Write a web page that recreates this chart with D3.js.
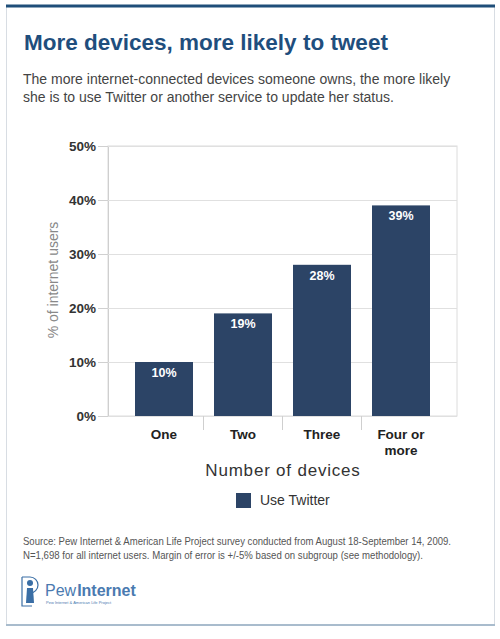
<!DOCTYPE html>
<html><head><meta charset="utf-8">
<script src="https://cdn.jsdelivr.net/npm/d3@7/dist/d3.min.js"></script>
<style>body{margin:0;background:#fff;}svg{display:block;font-family:Arial,"Liberation Sans",sans-serif;}</style>
</head><body>
<svg id="c" width="500" height="639"></svg>
<script>
const categories = ["One", "Two", "Three", "Four or more"];
const values = [10, 19, 28, 39];
const yTicks = [0, 10, 20, 30, 40, 50];
const seriesName = "Use Twitter";

const svg = d3.select("#c");
const barColor = "#2c4466";

// frame
svg.append("rect").attr("x",6.5).attr("y",6).attr("width",488).attr("height",619).attr("fill","#fff").attr("stroke","#d8dde3").attr("stroke-width",1);
svg.append("line").attr("x1",6).attr("x2",495).attr("y1",6).attr("y2",6).attr("stroke","#1f4e79").attr("stroke-width",3);
svg.append("line").attr("x1",6).attr("x2",495).attr("y1",625).attr("y2",625).attr("stroke","#a9bccd").attr("stroke-width",2);

// title
svg.append("text").attr("x",24).attr("y",50).attr("font-size",22.5).attr("font-weight","bold").attr("fill","#1f4e7d").text("More devices, more likely to tweet");
svg.append("text").attr("x",23).attr("y",84).attr("font-size",14).attr("fill","#444").text("The more internet-connected devices someone owns, the more likely");
svg.append("text").attr("x",23).attr("y",102).attr("font-size",14).attr("fill","#444").text("she is to use Twitter or another service to update her status.");

const plot = {l:108, r:457, t:146, b:416};
const y = d3.scaleLinear().domain([0,50]).range([plot.b, plot.t]);
const x = d3.scaleBand().domain(categories).range([124.5, 440.5]).paddingInner(0.266).paddingOuter(0.133);

// plot border
svg.append("rect").attr("x",plot.l).attr("y",plot.t).attr("width",plot.r-plot.l).attr("height",plot.b-plot.t).attr("fill","none").attr("stroke","#dcdcdc");

// gridlines + y axis
const yAxis = d3.axisLeft(y).tickValues(yTicks).tickSize(-(plot.r-plot.l)).tickPadding(12).tickFormat(d=>d+"%");
const gy = svg.append("g").attr("transform",`translate(${plot.l},0)`).call(yAxis);
gy.select(".domain").attr("stroke","#cfcfcf");
gy.selectAll(".tick line").attr("stroke","#e0e0e0");
gy.selectAll(".tick").append("line").attr("x1",-10).attr("x2",0).attr("stroke","#d0d0d0");
gy.selectAll(".tick text").attr("font-size",13.5).attr("font-weight","bold").attr("fill","#333").attr("font-family","Arial, Liberation Sans, sans-serif");

// category separators
const seps = categories.slice(1).map(c => x(c) - x.step()*x.paddingInner()/2);
svg.selectAll(".sep").data(seps).enter().append("line")
  .attr("x1",d=>d).attr("x2",d=>d).attr("y1",plot.b).attr("y2",plot.b+14).attr("stroke","#cfcfcf");

// bars
svg.selectAll(".bar").data(values).enter().append("rect")
  .attr("x",(d,i)=>x(categories[i])).attr("width",x.bandwidth())
  .attr("y",d=>y(d)).attr("height",d=>y(0)-y(d)).attr("fill",barColor);
svg.selectAll(".vl").data(values).enter().append("text")
  .attr("x",(d,i)=>x(categories[i])+x.bandwidth()/2).attr("y",d=>y(d)+15)
  .attr("text-anchor","middle").attr("font-size",12.5).attr("font-weight","bold").attr("fill","#fff").text(d=>d+"%");

// category labels
const catLines = {"Four or more":["Four or","more"]};
categories.forEach(c=>{
  const lines = catLines[c] || [c];
  const t = svg.append("text").attr("x",x(c)+x.bandwidth()/2).attr("y",439).attr("text-anchor","middle")
    .attr("font-size",13.5).attr("font-weight","bold").attr("fill","#222");
  lines.forEach((l,i)=>t.append("tspan").attr("x",x(c)+x.bandwidth()/2).attr("dy",i?16:0).text(l));
});

// axis titles
svg.append("text").attr("x",283).attr("y",476).attr("text-anchor","middle").attr("font-size",17).attr("letter-spacing",0.8).attr("fill","#333").text("Number of devices");
svg.append("text").attr("transform","translate(58,280) rotate(-90)").attr("text-anchor","middle").attr("font-size",14).attr("fill","#888").text("% of internet users");

// legend
svg.append("rect").attr("x",236).attr("y",493).attr("width",15).attr("height",15).attr("fill",barColor);
svg.append("text").attr("x",260).attr("y",505).attr("font-size",14).attr("fill","#333").text(seriesName);

// source
svg.append("text").attr("x",23).attr("y",545).attr("font-size",10.2).attr("fill","#555").attr("textLength",428).attr("lengthAdjust","spacingAndGlyphs").text("Source: Pew Internet & American Life Project survey conducted from August 18-September 14, 2009.");
svg.append("text").attr("x",23).attr("y",559).attr("font-size",10.2).attr("fill","#555").attr("textLength",400).attr("lengthAdjust","spacingAndGlyphs").text("N=1,698 for all internet users. Margin of error is +/-5% based on subgroup (see methodology).");

// logo
const lg = svg.append("g");
lg.append("path").attr("d","M22,577 L22,606 L32,606 M22,577 L30,577 A8,8 0 0 1 30,593").attr("fill","none").attr("stroke","#3a6ea5").attr("stroke-width",1.2);
lg.append("circle").attr("cx",30).attr("cy",583).attr("r",3).attr("fill","#3a6ea5");
lg.append("path").attr("d","M27,588 L33,588 L34,603 L26,603 Z").attr("fill","#3a6ea5");
lg.append("text").attr("x",45).attr("y",596).attr("font-size",16).attr("fill","#4a7ab0").text("Pew").append("tspan").attr("font-weight","bold").attr("dx",1).text("Internet");
lg.append("text").attr("x",46).attr("y",604).attr("font-size",4).attr("fill","#4a7ab0").text("Pew Internet & American Life Project");
</script>
</body></html>
